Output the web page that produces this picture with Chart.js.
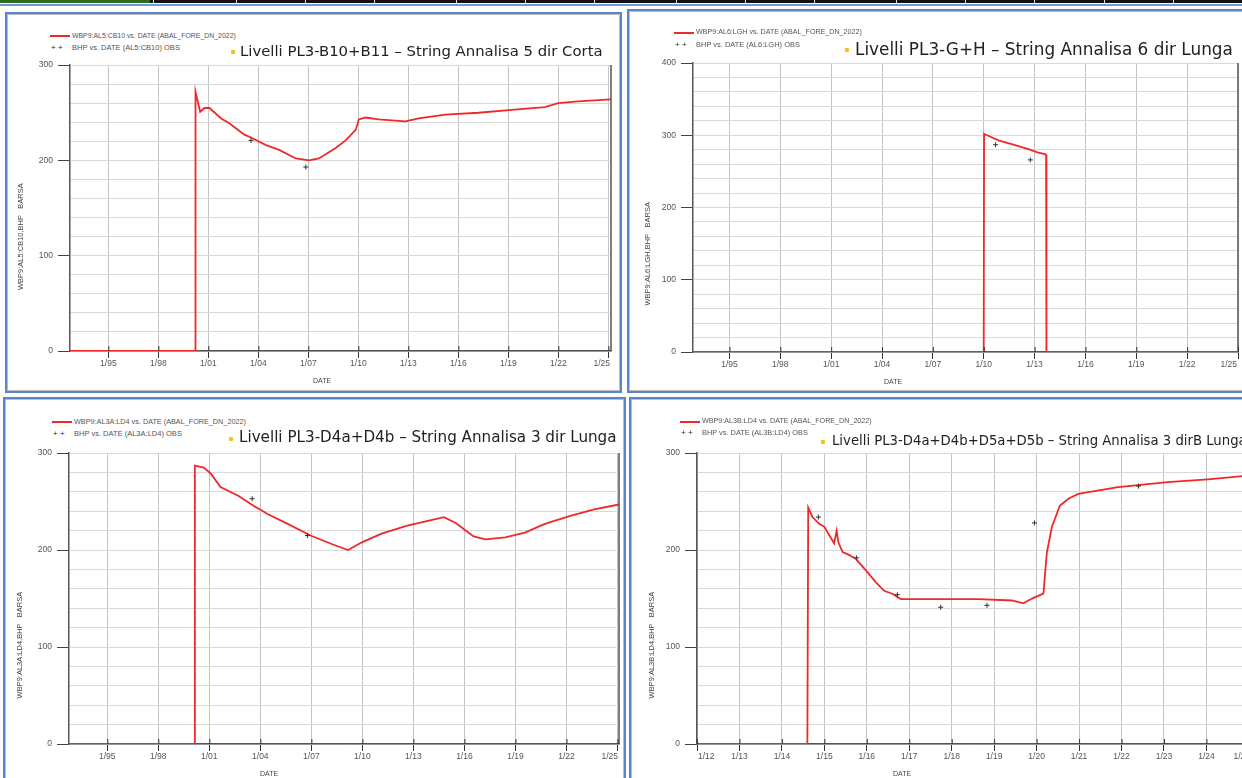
<!DOCTYPE html>
<html><head><meta charset="utf-8">
<script src="https://cdn.jsdelivr.net/npm/chart.js@4.4.1/dist/chart.umd.min.js"></script>
<style>
html,body{margin:0;padding:0;width:1242px;height:778px;overflow:hidden;background:#fff;position:relative;}
.panel{position:absolute;border:2px solid #5a86c8;box-shadow:inset 0 0 0 1px #bdbdbd;box-sizing:border-box;background:#fff;}
canvas{position:absolute;}
.leg{position:absolute;white-space:nowrap;font-family:"Liberation Sans",Arial,sans-serif;color:#555;line-height:1;transform:translateY(-50%);}
.mk{position:absolute;white-space:nowrap;font-family:"Liberation Sans",Arial,sans-serif;color:#222;font-size:8px;line-height:1;transform:translateY(-50%);}
.ttl{position:absolute;white-space:nowrap;font-family:"DejaVu Sans",sans-serif;color:#222;line-height:1;transform:translateY(-50%);}
.bul{position:absolute;width:4px;height:4px;background:#f2c21b;border-radius:1px;}
.rl{position:absolute;height:2px;background:#f02a2a;}
.strip{position:absolute;left:0;top:0;width:1242px;height:3px;background:#111;}
.sep{position:absolute;top:0;width:1px;height:3px;background:#ddd;}
</style></head>
<body>
<div class="strip"></div>
<div style="position:absolute;left:0;top:0;width:150px;height:3px;background:#2e6b1e"></div>
<div id="seps"></div>
<div style="position:absolute;left:0;top:4px;width:1242px;height:2px;background:#6b9ad6"></div>

<div class="panel" style="left:5px;top:12px;width:617px;height:381px"></div>
<div class="panel" style="left:627px;top:9px;width:620px;height:384px"></div>
<div class="panel" style="left:3px;top:397px;width:623px;height:385px"></div>
<div class="panel" style="left:629px;top:397px;width:620px;height:385px"></div>

<canvas id="c1"></canvas>
<canvas id="c2"></canvas>
<canvas id="c3"></canvas>
<canvas id="c4"></canvas>

<div id="texts"></div>

<script>
// ---------- tick labels ----------
const xTicksLong = [1995, 1998, 2001, 2004, 2007, 2010, 2013, 2016, 2019, 2022, 2025];
const xLabelsLong = ["1/95", "1/98", "1/01", "1/04", "1/07", "1/10", "1/13", "1/16", "1/19", "1/22", "1/25"];
const xTicksShort = [2012, 2013, 2014, 2015, 2016, 2017, 2018, 2019, 2020, 2021, 2022, 2023, 2024, 2025];
const xLabelsShort = ["1/12", "1/13", "1/14", "1/15", "1/16", "1/17", "1/18", "1/19", "1/20", "1/21", "1/22", "1/23", "1/24", "1/25"];

// ---------- panel 1 : AL5:CB10 ----------
const p1Years = [1992.7, 2000.22, 2000.23, 2000.51, 2000.77, 2001.07, 2001.77, 2002.26, 2003.16, 2003.56, 2004.46, 2005.25, 2006.25, 2007.04, 2007.64, 2008.64, 2009.24, 2009.84, 2010.03, 2010.43, 2011.23, 2012.82, 2013.62, 2015.22, 2017.21, 2019.2, 2021.19, 2021.99, 2023.18, 2025.16];
const p1Sim = [0, 0, 272, 251, 255, 255, 244, 239, 227, 224, 216, 211, 202, 200, 202, 213, 221, 232, 243, 245, 243, 241, 244, 248, 250, 253, 256, 260, 262, 264];
const p1ObsYears = [2003.56, 2006.85];
const p1Obs = [221, 193];

// ---------- panel 2 : AL6:LGH ----------
const p2Years = [1992.85, 2010.0, 2010.02, 2010.3, 2010.87, 2011.75, 2012.63, 2013.22, 2013.6, 2013.68, 2013.7, 2025.0];
const p2Sim = [0, 0, 302, 299, 293, 287, 281, 276, 274, 273, 0, 0];
const p2ObsYears = [2010.7, 2012.75];
const p2Obs = [287, 266];

// ---------- panel 3 : AL3A:LD4 ----------
const p3Years = [1992.75, 2000.14, 2000.15, 2000.67, 2001.08, 2001.66, 2002.70, 2003.58, 2004.45, 2005.61, 2006.95, 2008.23, 2009.16, 2009.97, 2011.13, 2012.59, 2014.04, 2014.80, 2015.49, 2016.54, 2017.24, 2018.40, 2019.56, 2020.73, 2022.18, 2023.63, 2025.09];
const p3Sim = [0, 0, 287, 285, 279, 265, 256, 246, 237, 227, 215, 206, 200, 208, 217, 225, 231, 234, 228, 214, 211, 213, 218, 227, 235, 242, 247];
const p3ObsYears = [2003.52, 2006.77];
const p3Obs = [253, 215];

// ---------- panel 4 : AL3B:LD4 ----------
const p4Years = [2012.0, 2014.60, 2014.62, 2014.72, 2014.88, 2015.00, 2015.12, 2015.23, 2015.29, 2015.33, 2015.43, 2015.58, 2015.74, 2015.98, 2016.21, 2016.41, 2016.60, 2016.80, 2018.64, 2019.42, 2019.69, 2019.89, 2020.16, 2020.24, 2020.36, 2020.55, 2020.75, 2020.98, 2021.92, 2023.09, 2024.03, 2025.05];
const p4Sim = [0, 0, 244, 234, 227, 224, 215, 207, 220, 208, 198, 195, 191, 179, 167, 158, 155, 149.5, 149.5, 148, 145, 150, 155, 197, 224, 246, 253, 258, 265, 270, 273, 277];
const p4ObsYears = [2014.86, 2015.76, 2016.72, 2017.74, 2018.83, 2019.95, 2022.4];
const p4Obs = [234, 192, 154, 141, 143, 228, 266];

// ---------- texts ----------
const yTitles = ["WBP9:AL5:CB10,BHP   BARSA", "WBP9:AL6:LGH,BHP   BARSA", "WBP9:AL3A:LD4,BHP   BARSA", "WBP9:AL3B:LD4,BHP   BARSA"];
const simLegends = ["WBP9:AL5:CB10 vs. DATE (ABAL_FORE_DN_2022)", "WBP9:AL6:LGH vs. DATE (ABAL_FORE_DN_2022)", "WBP9:AL3A:LD4 vs. DATE (ABAL_FORE_DN_2022)", "WBP9:AL3B:LD4 vs. DATE (ABAL_FORE_DN_2022)"];
const obsLegends = ["BHP vs. DATE (AL5:CB10) OBS", "BHP vs. DATE (AL6:LGH) OBS", "BHP vs. DATE (AL3A:LD4) OBS", "BHP vs. DATE (AL3B:LD4) OBS"];
const titles = ["Livelli PL3-B10+B11 \u2013 String Annalisa 5 dir Corta", "Livelli PL3-G+H \u2013 String Annalisa 6 dir Lunga", "Livelli PL3-D4a+D4b \u2013 String Annalisa 3 dir Lunga", "Livelli PL3-D4a+D4b+D5a+D5b  \u2013 String Annalisa 3 dirB Lunga"];

// top strip separators
const sepX = [153, 236, 305, 374, 456, 525, 594, 676, 745, 814, 896, 965, 1034, 1104, 1173];
sepX.forEach(x => { const d = document.createElement('div'); d.className = 'sep'; d.style.left = x + 'px'; document.getElementById('seps').appendChild(d); });

// layout of header texts
const headLayout = [
  {rl: [50, 70], l1: [72, 236, 36], mk: 51, l2: [72, 180, 48], bul: 231, t: [240, 603, 51]},
  {rl: [674, 694], l1: [696, 862, 33], mk: 675, l2: [696, 800, 45], bul: 845, t: [855, 1233, 49]},
  {rl: [52, 72], l1: [74, 246, 422], mk: 53, l2: [74, 182, 434], bul: 229, t: [239, 617, 438]},
  {rl: [680, 700], l1: [702, 872, 422], mk: 681, l2: [702, 808, 433], bul: 821, t: [832, 1247, 441]}
];
const tx = document.getElementById('texts');
function addEl(cls, text, x, y) {
  const d = document.createElement('div'); d.className = cls; d.textContent = text;
  d.style.left = x + 'px'; d.style.top = y + 'px'; tx.appendChild(d); return d;
}
function fit(el, w) {
  el.style.fontSize = '20px';
  const m = el.getBoundingClientRect().width;
  el.style.fontSize = (20 * w / m) + 'px';
}
headLayout.forEach((h, i) => {
  const r = document.createElement('div'); r.className = 'rl';
  r.style.left = h.rl[0] + 'px'; r.style.width = (h.rl[1] - h.rl[0]) + 'px'; r.style.top = (h.l1[2] - 1) + 'px'; tx.appendChild(r);
  fit(addEl('leg', simLegends[i], h.l1[0], h.l1[2]), h.l1[1] - h.l1[0]);
  addEl('mk', '+ +', h.mk, h.l2[2]);
  fit(addEl('leg', obsLegends[i], h.l2[0], h.l2[2]), h.l2[1] - h.l2[0]);
  const b = document.createElement('div'); b.className = 'bul';
  b.style.left = h.bul + 'px'; b.style.top = (h.t[2] - 1) + 'px'; tx.appendChild(b);
  fit(addEl('ttl', titles[i], h.t[0], h.t[2]), h.t[1] - h.t[0]);
});

// ---------- charts ----------
const panels = [
  {id: 'c1', left: 12, top: 55, width: 604, height: 334, yW: 58, xH: 38, padTop: 10, padRight: 3, xMin: 1992.7, xMax: 2025.16, yMax: 300, xTicks: xTicksLong, xLabels: xLabelsLong, years: p1Years, sim: p1Sim, obsYears: p1ObsYears, obs: p1Obs, yTitle: yTitles[0], titleX: 9, titleFrac: 0.40, dateX: 252},
  {id: 'c2', left: 639, top: 53, width: 604, height: 337, yW: 54, xH: 38, padTop: 10, padRight: 3, xMin: 1992.85, xMax: 2025.0, yMax: 400, xTicks: xTicksLong, xLabels: xLabelsLong, years: p2Years, sim: p2Sim, obsYears: p2ObsYears, obs: p2Obs, yTitle: yTitles[1], titleX: 9, titleFrac: 0.34, dateX: 200},
  {id: 'c3', left: 12, top: 443, width: 612, height: 339, yW: 57, xH: 38, padTop: 10, padRight: 2, xMin: 1992.75, xMax: 2025.09, yMax: 300, xTicks: xTicksLong, xLabels: xLabelsLong, years: p3Years, sim: p3Sim, obsYears: p3ObsYears, obs: p3Obs, yTitle: yTitles[2], titleX: 8, titleFrac: 0.34, dateX: 200},
  {id: 'c4', left: 643, top: 443, width: 613, height: 339, yW: 54, xH: 38, padTop: 10, padRight: 2, xMin: 2012.0, xMax: 2025.05, yMax: 300, xTicks: xTicksShort, xLabels: xLabelsShort, years: p4Years, sim: p4Sim, obsYears: p4ObsYears, obs: p4Obs, yTitle: yTitles[3], titleX: 9, titleFrac: 0.34, dateX: 205}
];

const decor = {
  id: 'decor',
  afterDraw(chart) {
    const cfg = chart.options.plugins.decor;
    const ctx = chart.ctx, a = chart.chartArea, xs = chart.scales.x;
    ctx.save();
    // right frame line
    ctx.strokeStyle = '#555'; ctx.lineWidth = 1.5;
    ctx.beginPath(); ctx.moveTo(a.right, a.top); ctx.lineTo(a.right, a.bottom); ctx.stroke();
    // tick marks above axis + labels
    ctx.font = '8.5px "Liberation Sans", Arial, sans-serif';
    ctx.fillStyle = '#555'; ctx.textBaseline = 'middle'; ctx.textAlign = 'center';
    ctx.strokeStyle = '#333'; ctx.lineWidth = 1;
    cfg.xTicks.forEach((v, i) => {
      const px = xs.getPixelForValue(v);
      ctx.beginPath(); ctx.moveTo(px + 0.5, a.bottom - 5); ctx.lineTo(px + 0.5, a.bottom); ctx.stroke();
      const lbl = cfg.xLabels[i];
      const w = ctx.measureText(lbl).width;
      const cx = Math.min(Math.max(px, a.left + w / 2 + 1), a.right - w / 2 - 1);
      ctx.fillText(lbl, cx, a.bottom + 13);
    });
    // DATE
    ctx.font = '7px "Liberation Sans", Arial, sans-serif';
    ctx.fillStyle = '#444';
    ctx.fillText('DATE', a.left + cfg.dateX, a.bottom + 30);
    // y title
    ctx.translate(cfg.titleX, a.bottom - cfg.titleFrac * (a.bottom - a.top));
    ctx.rotate(-Math.PI / 2);
    ctx.font = '7.5px "Liberation Sans", Arial, sans-serif';
    ctx.fillText(cfg.yTitle, 0, 0);
    ctx.restore();
  }
};

panels.forEach(p => {
  const el = document.getElementById(p.id);
  el.width = p.width; el.height = p.height;
  el.style.left = p.left + 'px'; el.style.top = p.top + 'px';
  el.style.width = p.width + 'px'; el.style.height = p.height + 'px';
  new Chart(el, {
    type: 'line',
    data: {
      datasets: [
        {data: p.years.map((x, i) => ({x: x, y: p.sim[i]})), borderColor: '#f0282a', borderWidth: 1.8, pointRadius: 0, tension: 0, fill: false, order: 2},
        {type: 'scatter', data: p.obsYears.map((x, i) => ({x: x, y: p.obs[i]})), pointStyle: 'cross', pointRadius: 2.5, borderColor: '#333', backgroundColor: '#333', borderWidth: 1, showLine: false, order: 1}
      ]
    },
    options: {
      responsive: false, animation: false, devicePixelRatio: 1,
      layout: {padding: {top: p.padTop, right: p.padRight, left: 0, bottom: 0}},
      plugins: {legend: {display: false}, tooltip: {enabled: false},
        decor: {xTicks: p.xTicks, xLabels: p.xLabels, yTitle: p.yTitle, titleX: p.titleX, titleFrac: p.titleFrac, dateX: p.dateX}},
      scales: {
        x: {
          type: 'linear', min: p.xMin, max: p.xMax,
          afterBuildTicks: s => { s.ticks = p.xTicks.map(v => ({value: v})); },
          ticks: {display: false},
          grid: {color: '#c3c3c3', lineWidth: 1, tickLength: 7, tickColor: '#333'},
          border: {color: '#555', width: 1.5},
          afterFit: s => { s.height = p.xH; }
        },
        y: {
          type: 'linear', min: 0, max: p.yMax,
          ticks: {stepSize: 20, autoSkip: false, padding: 5, color: '#555',
            font: {size: 8.5, family: '"Liberation Sans", Arial, sans-serif'},
            callback: v => (v % 100 === 0 ? String(v) : '')},
          grid: {color: '#d9d9d9', lineWidth: 1, tickLength: 12,
            tickColor: c => (c.tick && c.tick.value % 100 === 0 ? '#444' : 'rgba(0,0,0,0)')},
          border: {color: '#555', width: 1.5},
          afterFit: s => { s.width = p.yW; }
        }
      }
    },
    plugins: [decor]
  });
});
</script>
</body></html>
